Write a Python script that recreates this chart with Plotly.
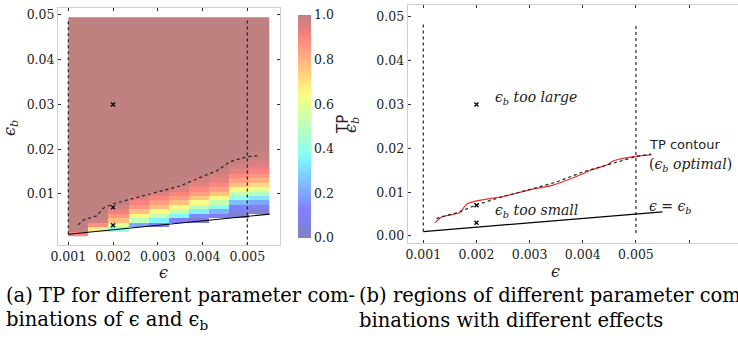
import numpy as np
import plotly.graph_objects as go

W, H = 738, 343

# ---------------- data ----------------
eps_b_rows = [round(0.001 * k, 3) for k in range(1, 50)]          # 0.001 .. 0.049
eps_cols = [0.001, 0.0015, 0.002, 0.0025, 0.003, 0.0035, 0.004, 0.0045, 0.005, 0.0055]
# TP values for each column, from the first valid eps_b row upwards (rest = 1.0)
tp_col0 = [0.9]
tp_col1 = [0.68, 0.88, 0.97]
tp_col2 = [0.4, 0.58, 0.78, 0.86, 0.92, 0.96]
tp_col3 = [0.2, 0.5, 0.65, 0.78, 0.86, 0.91, 0.95]
tp_col4 = [0.1, 0.35, 0.52, 0.65, 0.78, 0.85, 0.9, 0.95]
tp_col5 = [0.12, 0.36, 0.52, 0.65, 0.78, 0.85, 0.9, 0.95, 0.98]
tp_col6 = [0.05, 0.15, 0.35, 0.5, 0.63, 0.76, 0.84, 0.89, 0.93, 0.96]
tp_col7 = [0.08, 0.22, 0.38, 0.52, 0.65, 0.77, 0.84, 0.89, 0.93, 0.96, 0.98]
tp_col8 = [0.03, 0.06, 0.12, 0.25, 0.4, 0.52, 0.65, 0.77, 0.84, 0.89, 0.93, 0.96, 0.98]
tp_col9 = [0.03, 0.08, 0.2, 0.33, 0.48, 0.6, 0.72, 0.8, 0.86, 0.9, 0.93, 0.96, 0.98, 0.99]
tp_cols = [tp_col0, tp_col1, tp_col2, tp_col3, tp_col4, tp_col5, tp_col6, tp_col7, tp_col8, tp_col9]

# contour of TP (dashed): left panel and right panel readings
contour_a_x = [0.00122, 0.00134, 0.00163, 0.00178, 0.0020, 0.00245, 0.00298, 0.0035, 0.00402, 0.00432, 0.00461, 0.00499, 0.00528]
contour_a_y = [0.0031, 0.0042, 0.0051, 0.0068, 0.0078, 0.0090, 0.0105, 0.0118, 0.0140, 0.0152, 0.0172, 0.0183, 0.0186]
contour_b_x = [0.00125, 0.00166, 0.0020, 0.0025, 0.0030, 0.0035, 0.0040, 0.00445, 0.0050, 0.00529]
contour_b_y = [0.0040, 0.0054, 0.0071, 0.0090, 0.0106, 0.0123, 0.0146, 0.0162, 0.0181, 0.0187]
# smoothed contour (red)
red_x = [0.00122, 0.00135, 0.0015, 0.00168, 0.00182, 0.0020, 0.0025, 0.0030, 0.00344, 0.00376, 0.0040, 0.00417, 0.00445, 0.00457, 0.00495, 0.00529]
red_y = [0.0030, 0.0044, 0.0048, 0.0053, 0.0073, 0.0080, 0.0090, 0.0105, 0.0116, 0.0130, 0.0142, 0.0151, 0.0162, 0.0171, 0.0181, 0.0185]

# parameter combinations marked with crosses
mark_x = [0.002, 0.002, 0.002]
mark_y = [0.03, 0.007, 0.003]

# eps = eps_b line and the two limit lines
diag_x = [0.001, 0.0055]
diag_y = [0.001, 0.0055]
vl_a_x1, vl_a_y1 = [0.001, 0.001], [0.001, 0.049]
vl_a_x2, vl_a_y2 = [0.005, 0.005], [-0.0015, 0.049]
vl_b_x1, vl_b_y1 = [0.001, 0.001], [0.001, 0.0486]
vl_b_x2, vl_b_y2 = [0.005, 0.005], [0.0007, 0.0486]

# ---------------- build heat-map matrix ----------------
Z = []
for r, eb in enumerate(eps_b_rows):
    row = []
    for c, e in enumerate(eps_cols):
        first = int(np.ceil(round(e / 0.001, 6))) - 1
        if r < first:
            row.append(None)
        else:
            i = r - first
            vals = tp_cols[c]
            row.append(vals[i] if i < len(vals) else 1.0)
    Z.append(row)

# jet colormap with 50% alpha over white
def jet(t):
    r = np.interp(t, [0, 0.35, 0.66, 0.89, 1], [0, 0, 1, 1, 0.5])
    g = np.interp(t, [0, 0.125, 0.375, 0.64, 0.91, 1], [0, 0, 1, 1, 0, 0])
    b = np.interp(t, [0, 0.11, 0.34, 0.65, 1], [0.5, 1, 1, 0, 0])
    return [int(round(255 * (0.5 * v + 0.5))) for v in (r, g, b)]

stops = np.linspace(0, 1, 41)
cscale = [[float(s), "rgb(%d,%d,%d)" % tuple(jet(s))] for s in stops]

def px(x):
    return x / W

def py(y):
    return 1 - y / H

SERIF = "DejaVu Serif"
SANS = "DejaVu Sans"
FRAME = "#cfcfcf"
TICK = "#333333"
DASH = "3px,3px"

fig = go.Figure()

fig.add_trace(go.Heatmap(
    z=Z, x0=0.001225, dx=0.00045, y=eps_b_rows,
    colorscale=cscale, zmin=0, zmax=1, xaxis="x", yaxis="y",
    hoverongaps=False, hoverinfo="skip",
    colorbar=dict(x=px(298), xanchor="left", y=py(126.5), yanchor="middle",
                  len=223 / H, lenmode="fraction", thickness=13, outlinewidth=0,
                  xpad=0, ypad=0,
                  tickvals=[0, 0.2, 0.4, 0.6, 0.8, 1.0],
                  ticktext=["0.0", "0.2", "0.4", "0.6", "0.8", "1.0"],
                  ticks="", ticklen=0,
                  tickfont=dict(family=SERIF, size=12.5, color="#222")),
))

line_k = dict(color="black", width=1.2)
dash_k = dict(color="#222", width=1.2, dash=DASH)

for xa, ya in (("x", "y"), ("x2", "y2")):
    if xa == "x":
        v1 = (vl_a_x1, vl_a_y1); v2 = (vl_a_x2, vl_a_y2); cx, cy = contour_a_x, contour_a_y
    else:
        v1 = (vl_b_x1, vl_b_y1); v2 = (vl_b_x2, vl_b_y2); cx, cy = contour_b_x, contour_b_y
    fig.add_trace(go.Scatter(x=v1[0], y=v1[1], mode="lines", line=dash_k, xaxis=xa, yaxis=ya, showlegend=False))
    fig.add_trace(go.Scatter(x=v2[0], y=v2[1], mode="lines", line=dash_k, xaxis=xa, yaxis=ya, showlegend=False))
    fig.add_trace(go.Scatter(x=diag_x, y=diag_y, mode="lines", line=line_k, xaxis=xa, yaxis=ya, showlegend=False))
    if xa == "x2":
        fig.add_trace(go.Scatter(x=red_x, y=red_y, mode="lines",
                                 line=dict(color="#e8302a", width=1.2, shape="spline", smoothing=0.6),
                                 xaxis=xa, yaxis=ya, showlegend=False))
    fig.add_trace(go.Scatter(x=cx, y=cy, mode="lines", line=dash_k, xaxis=xa, yaxis=ya, showlegend=False))
    fig.add_trace(go.Scatter(x=mark_x, y=mark_y, mode="markers",
                             marker=dict(symbol="x-thin", size=4, line=dict(color="black", width=1.3)),
                             xaxis=xa, yaxis=ya, showlegend=False))

tickfont = dict(family=SERIF, size=12.5, color="#222")
common_ax = dict(showgrid=False, zeroline=False, showline=True, linecolor=FRAME, linewidth=1,
                 ticks="inside", ticklen=3, tickcolor=TICK, tickwidth=1, tickfont=tickfont,
                 automargin=False)

fig.update_layout(
    width=W, height=H, margin=dict(l=0, r=0, t=0, b=0, autoexpand=False),
    paper_bgcolor="white", plot_bgcolor="white", showlegend=False, hovermode=False,
    xaxis=dict(domain=[px(58), px(280)], range=[0.00077, 0.00573],
               tickvals=[0.001, 0.002, 0.003, 0.004, 0.005],
               ticktext=["0.001", "0.002", "0.003", "0.004", "0.005"],
               mirror="ticks", anchor="y", **common_ax),
    yaxis=dict(domain=[py(245), py(8)], range=[-0.0014, 0.05156],
               tickvals=[0.01, 0.02, 0.03, 0.04, 0.05],
               ticktext=["0.01", "0.02", "0.03", "0.04", "0.05"],
               mirror="ticks", anchor="x", **common_ax),
    xaxis2=dict(domain=[px(407.7), 1.0], range=[0.000707, 0.00692],
                tickvals=[0.001, 0.002, 0.003, 0.004, 0.005, 0.006],
                ticktext=["0.001", "0.002", "0.003", "0.004", "0.005", ""],
                mirror="ticks", anchor="y2", **common_ax),
    yaxis2=dict(domain=[py(243.3), py(5)], range=[-0.00167, 0.0527],
                tickvals=[0.0, 0.01, 0.02, 0.03, 0.04, 0.05],
                ticktext=["0.00", "0.01", "0.02", "0.03", "0.04", "0.05"],
                mirror=False, anchor="x2", **common_ax),
)

ann = []
def A(text, x, y, size=14, family=SERIF, xanchor="center", yanchor="middle", angle=0, xref="paper", yref="paper", color="#222"):
    ann.append(dict(text=text, x=x, y=y, xref=xref, yref=yref, showarrow=False,
                    xanchor=xanchor, yanchor=yanchor, textangle=angle,
                    font=dict(family=family, size=size, color=color)))

# axis titles
A("<i>ϵ<sub>b</sub></i>", px(11), py(128), size=16, angle=-90)
A("<i>ϵ<sub>b</sub></i>", px(352), py(125), size=16, angle=-90)
A("<i>ϵ</i>", px(163), py(272), size=16)
A("<i>ϵ</i>", px(555), py(271), size=16)
A("TP", px(343), py(125), size=15, family=SANS, angle=-90)

# annotations in right panel
A("<i>ϵ<sub>b</sub> too large</i>", 0.00231, 0.0315, xanchor="left", xref="x2", yref="y2")
A("<i>ϵ<sub>b</sub> too small</i>", 0.00231, 0.0056, xanchor="left", xref="x2", yref="y2")
A("TP contour", 0.00521, 0.0208, size=13, family=SANS, xanchor="left", xref="x2", yref="y2")
A("(<i>ϵ<sub>b</sub> optimal</i>)", 0.00521, 0.0163, xanchor="left", xref="x2", yref="y2")
A("<i>ϵ</i> = <i>ϵ<sub>b</sub></i>", 0.0052, 0.0066, xanchor="left", xref="x2", yref="y2")

# captions
CAP = 19.5
A("(a) TP for different parameter com-", px(4), py(295), size=CAP, family=SERIF, xanchor="left", color="black")
A("binations of ϵ and ϵ<sub>b</sub>", px(4), py(320), size=CAP, family=SERIF, xanchor="left", color="black")
A("(b) regions of different parameter com-", px(357), py(295), size=CAP, family=SERIF, xanchor="left", color="black")
A("binations with different effects", px(357), py(320), size=CAP, family=SERIF, xanchor="left", color="black")

fig.update_layout(annotations=ann)
fig.write_html("out.html", config={"displayModeBar": False},
               post_script="document.body.style.margin='0';document.body.style.overflow='hidden';")
